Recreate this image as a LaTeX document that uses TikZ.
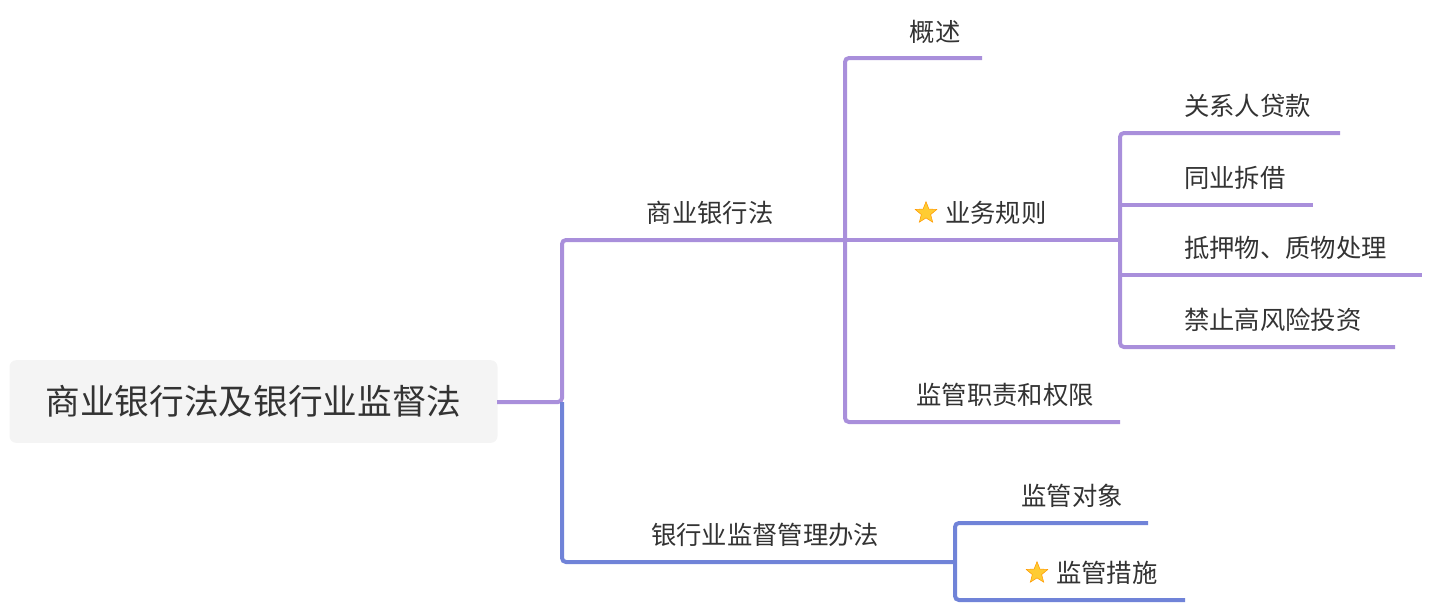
\documentclass[tikz,border=0pt]{standalone}
\usepackage{fontspec}
\setmainfont{Noto Sans CJK SC}
\usetikzlibrary{shapes.geometric}
\definecolor{pu}{HTML}{A98FDB}
\definecolor{bl}{HTML}{7083D8}
\definecolor{rootbg}{HTML}{F4F4F4}
\definecolor{txt}{HTML}{333333}
\definecolor{stary}{HTML}{FFCC33}
\begin{document}
\begin{tikzpicture}[x=0.75pt,y=-0.75pt,
  pl/.style={draw=pu,line width=3pt,rounded corners=3pt},
  bll/.style={draw=bl,line width=3pt,rounded corners=3pt},
  lab/.style={text=txt,font=\fontsize{19}{22}\selectfont,inner sep=0pt},
  starn/.style={star,star points=5,star point ratio=2.3,fill=stary,draw=orange!80!yellow,line width=0.4pt,minimum size=17pt,inner sep=0pt}]
\useasboundingbox (0,0) rectangle (1432,604);
\node[fill=rootbg,rounded corners=5pt,minimum width=366pt,minimum height=62pt,text=txt,font=\fontsize{26}{30}\selectfont] (root) at (253.5,401.5) {商业银行法及银行业监督法};
\coordinate (r0) at (497,402);
\coordinate (r1) at (562,402);
\draw[pl] (r0) -- (r1) -- (562,240) -- (845,240);
\draw[bll] (r1) -- (562,562) -- (955,562);
\node[lab] (b1) at (710,213) {商业银行法};
\node[lab] (b2) at (765,535) {银行业监督管理办法};
% branch 1
\draw[pl] (982,58) -- (845,58) -- (845,422) -- (1120,422);
\draw[pl] (845,240) -- (1120,240);
\node[lab] (c1) at (935,32) {概述};
\node[starn] (s1) at (926,213) {};
\node[lab,anchor=west] (c2) at (945,213) {业务规则};
\node[lab] (c3) at (1005,395) {监管职责和权限};
\draw[pl] (1340,133) -- (1120,133) -- (1120,347) -- (1395,347);
\draw[pl] (1120,205) -- (1313,205);
\draw[pl] (1120,275) -- (1422,275);
\node[lab,anchor=west] (d1) at (1184,106) {关系人贷款};
\node[lab,anchor=west] (d2) at (1184,178) {同业拆借};
\node[lab,anchor=west] (d3) at (1184,248) {抵押物、质物处理};
\node[lab,anchor=west] (d4) at (1184,320) {禁止高风险投资};
% branch 2
\draw[bll] (1148,523) -- (955,523) -- (955,600) -- (1185,600);
\node[lab] (e1) at (1072,496) {监管对象};
\node[starn] (s2) at (1037,573) {};
\node[lab,anchor=west] (e2) at (1056,573) {监管措施};
\end{tikzpicture}
\end{document}
